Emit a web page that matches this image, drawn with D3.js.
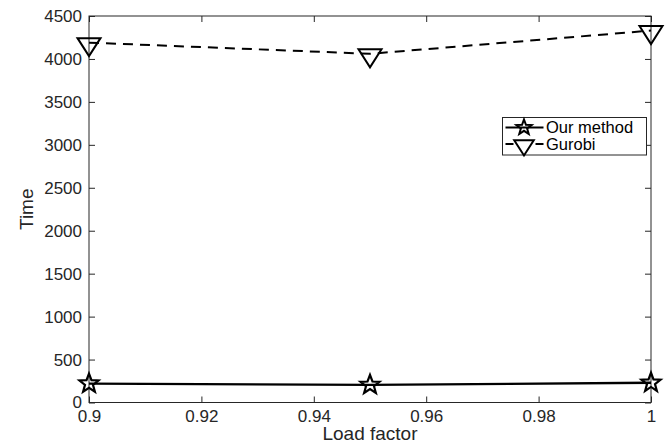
<!DOCTYPE html>
<html>
<head>
<meta charset="utf-8">
<script src="https://cdn.jsdelivr.net/npm/d3@7"></script>
<style>
  body { margin: 0; background: #fff; }
  svg { display: block; font-family: "Liberation Sans", Arial, sans-serif; }
</style>
</head>
<body>
<svg id="chart" width="665" height="446"></svg>
<script>
// data
let loadFactor = [0.9, 0.95, 1.0];
let ourMethod = [220, 205, 230];
let gurobi = [4190, 4060, 4330];
let seriesNames = ['Our method', 'Gurobi'];
let xTicks = [0.9, 0.92, 0.94, 0.96, 0.98, 1];
let yTicks = [0, 500, 1000, 1500, 2000, 2500, 3000, 3500, 4000, 4500];

let margin = {top: 16, right: 14, bottom: 43.5, left: 89};
let width = 665 - margin.left - margin.right;
let height = 446 - margin.top - margin.bottom;
let axisCol = '#262626';

let svg = d3.select('#chart');
let g = svg.append('g')
  .attr('transform', 'translate(' + margin.left + ',' + margin.top + ')');

let xScale = d3.scaleLinear().domain([0.9, 1]).range([0, width]);
let yScale = d3.scaleLinear().domain([0, 4500]).range([height, 0]);

let fmtX = function(d) { return String(+d.toFixed(2)); };
let fmtY = d3.format('d');

// axes, ticks pointing inward like matlab
let styleAxis = function(sel) {
  sel.select('.domain').remove();
  sel.selectAll('line').attr('stroke', axisCol).attr('stroke-width', 1);
  sel.selectAll('text').attr('fill', axisCol).style('font-size', '17px');
};

g.append('g')
  .attr('transform', 'translate(0,' + height + ')')
  .call(d3.axisBottom(xScale).tickValues(xTicks).tickFormat(fmtX).tickSize(-6).tickPadding(7))
  .call(styleAxis);
g.append('g')
  .call(d3.axisTop(xScale).tickValues(xTicks).tickFormat('').tickSize(-6))
  .call(styleAxis);
g.append('g')
  .call(d3.axisLeft(yScale).tickValues(yTicks).tickFormat(fmtY).tickSize(-6).tickPadding(7))
  .call(styleAxis);
g.append('g')
  .attr('transform', 'translate(' + width + ',0)')
  .call(d3.axisRight(yScale).tickValues(yTicks).tickFormat('').tickSize(-6))
  .call(styleAxis);

g.append('rect')
  .attr('width', width).attr('height', height)
  .attr('fill', 'none').attr('stroke', axisCol).attr('stroke-width', 1);

// marker shapes
let starPath = function(R, r) {
  let pts = [];
  for (let i = 0; i < 10; i++) {
    let rad = i % 2 === 0 ? R : r;
    let a = -Math.PI / 2 + i * Math.PI / 5;
    pts.push([rad * Math.cos(a), rad * Math.sin(a)]);
  }
  return 'M' + pts.map(function(p){ return p[0].toFixed(2) + ',' + p[1].toFixed(2); }).join('L') + 'Z';
};
let triPath = function(s) {
  return 'M' + (-11.5*s) + ',' + (-4.5*s) + 'L' + (11.5*s) + ',' + (-4.5*s) + 'L0,' + (13.5*s) + 'Z';
};

let line = d3.line()
  .x(function(d){ return xScale(d[0]); })
  .y(function(d){ return yScale(d[1]); });

let ourData = loadFactor.map(function(x, i){ return [x, ourMethod[i]]; });
let gurData = loadFactor.map(function(x, i){ return [x, gurobi[i]]; });

g.append('path')
  .datum(ourData)
  .attr('d', line)
  .attr('fill', 'none').attr('stroke', '#000').attr('stroke-width', 2.3);

g.append('path')
  .datum(gurData)
  .attr('d', line)
  .attr('fill', 'none').attr('stroke', '#000').attr('stroke-width', 2)
  .attr('stroke-dasharray', '10,7');

g.selectAll('.star')
  .data(ourData)
  .enter().append('path')
  .attr('class', 'star')
  .attr('d', starPath(10, 4.2))
  .attr('transform', function(d){ return 'translate(' + xScale(d[0]) + ',' + yScale(d[1]) + ')'; })
  .attr('fill', 'none').attr('stroke', '#000').attr('stroke-width', 2.2);

g.selectAll('.tri')
  .data(gurData)
  .enter().append('path')
  .attr('class', 'tri')
  .attr('d', triPath(1))
  .attr('transform', function(d){ return 'translate(' + xScale(d[0]) + ',' + yScale(d[1]) + ')'; })
  .attr('fill', 'none').attr('stroke', '#000').attr('stroke-width', 2);

// axis labels
svg.append('text')
  .attr('x', margin.left + width / 2).attr('y', 440)
  .attr('text-anchor', 'middle')
  .attr('fill', axisCol).style('font-size', '19px')
  .text('Load factor');
svg.append('text')
  .attr('transform', 'translate(33,' + (margin.top + height / 2) + ') rotate(-90)')
  .attr('text-anchor', 'middle')
  .attr('fill', axisCol).style('font-size', '19px')
  .text('Time');

// legend
let leg = svg.append('g').attr('transform', 'translate(502.5,117.5)');
leg.append('rect')
  .attr('width', 144).attr('height', 37.5)
  .attr('fill', '#fff').attr('stroke', axisCol).attr('stroke-width', 1);

let legRows = leg.selectAll('.row')
  .data(seriesNames)
  .enter().append('g')
  .attr('transform', function(d, i){ return 'translate(0,' + (10 + i * 16.5) + ')'; });

legRows.append('line')
  .attr('x1', 3).attr('x2', 41)
  .attr('stroke', '#000').attr('stroke-width', 2)
  .attr('stroke-dasharray', function(d, i){ return i === 1 ? '8,22' : null; });
legRows.append('path')
  .attr('d', function(d, i){ return i === 0 ? starPath(8, 3.3) : triPath(0.85); })
  .attr('transform', 'translate(21.5,0)')
  .attr('fill', 'none').attr('stroke', '#000').attr('stroke-width', 2);
legRows.append('text')
  .attr('x', 43.5).attr('dy', '0.35em')
  .attr('fill', '#000').style('font-size', '16.5px')
  .text(function(d){ return d; });
</script>
</body>
</html>
